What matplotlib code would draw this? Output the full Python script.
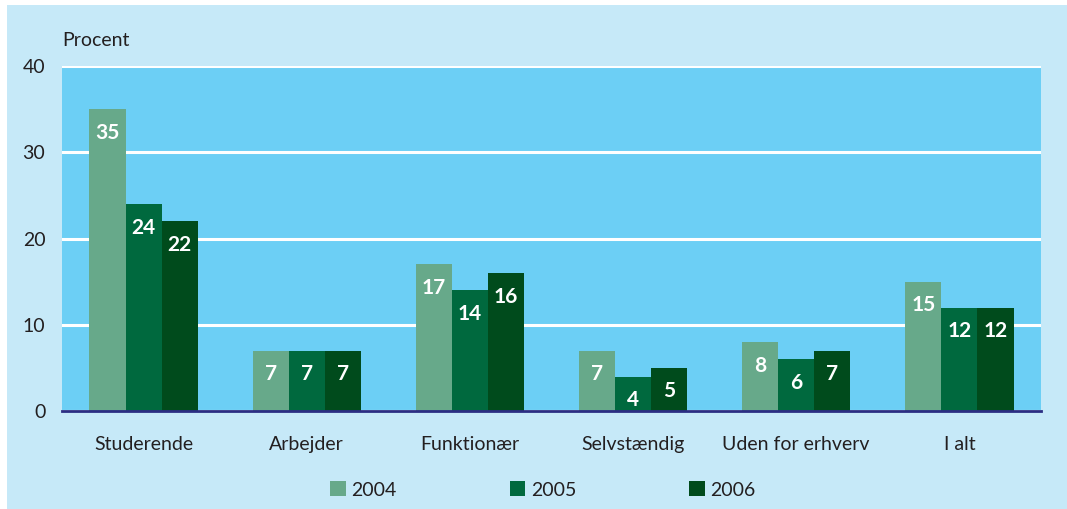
import matplotlib
matplotlib.use("Agg")
import matplotlib.pyplot as plt
from matplotlib.patches import Rectangle
import numpy as np

plt.rcParams['font.family'] = ['Lato', 'DejaVu Sans']

categories = ["Studerende", "Arbejder", "Funktionær", "Selvstændig", "Uden for erhverv", "I alt"]
years = ["2004", "2005", "2006"]
values_2004 = [35, 7, 17, 7, 8, 15]
values_2005 = [24, 7, 14, 4, 6, 12]
values_2006 = [22, 7, 16, 5, 7, 12]
yticks = [0, 10, 20, 30, 40]

series = [values_2004, values_2005, values_2006]
colors = ["#67a98a", "#00693e", "#004b1c"]

W, H = 1067, 509
fig = plt.figure(figsize=(W / 100, H / 100), dpi=100)
fig.patch.set_facecolor("white")
fig.patches.append(Rectangle((7 / W, 0), 1 - 7 / W, 1 - 5 / H, transform=fig.transFigure,
                             facecolor="#c6e9f8", edgecolor="none", zorder=-10))

ax = fig.add_axes([62 / W, 98 / H, (1041 - 62) / W, (411 - 66) / H])
ax.set_facecolor("#6ccff5")

x = np.arange(len(categories))
bw = 0.221
for i, (vals, col, yr) in enumerate(zip(series, colors, years)):
    pos = x + (i - 1) * bw
    bars = ax.bar(pos, vals, width=bw, color=col, label=yr, zorder=3, linewidth=0)
    for b, v in zip(bars, vals):
        ax.annotate(str(v), (b.get_x() + b.get_width() / 2, v), xytext=(0, -17),
                    textcoords="offset points", ha="center", va="center",
                    color="white", fontsize=15, fontweight="bold", zorder=4)

ax.set_xlim(-0.5, len(categories) - 0.5)
ax.set_ylim(0, 40)
ax.set_yticks(yticks)
ax.set_yticklabels([str(t) for t in yticks])
ax.yaxis.grid(True, color="white", linewidth=2.2, zorder=1)
ax.set_axisbelow(True)
for s in ["left", "right", "top"]:
    ax.spines[s].set_visible(False)
ax.spines["bottom"].set_color("#2b2e83")
ax.spines["bottom"].set_linewidth(2.0)
ax.spines["bottom"].set_zorder(5)
ax.set_xticks(x)
ax.set_xticklabels(categories)
ax.tick_params(axis="both", length=0, labelsize=14, colors="#231f20")
ax.tick_params(axis="x", pad=18)
ax.tick_params(axis="y", pad=12)

fig.text(62 / W, 1 - 40 / H, "Procent", fontsize=14, color="#231f20", ha="left", va="center")

fig.legend(loc="center", bbox_to_anchor=(543 / W, 1 - 490 / H), ncol=3, frameon=False,
           handlelength=0.8, handleheight=0.8, handletextpad=0.3, columnspacing=5.8,
           fontsize=14, labelcolor="#231f20")

fig.savefig("out.png", dpi=100, facecolor=fig.get_facecolor())
